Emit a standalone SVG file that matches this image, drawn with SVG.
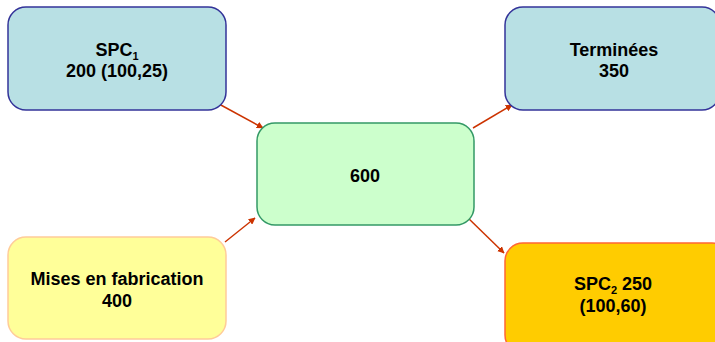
<svg xmlns="http://www.w3.org/2000/svg" width="715" height="342" viewBox="0 0 715 342">
<defs>
<style>
.t{font-family:"Liberation Sans",Arial,sans-serif;font-weight:bold;font-size:18px;fill:#000;text-anchor:middle}
.sub{font-size:11px}
.c{stroke:#cc3300;stroke-width:1.5;fill:none;marker-end:url(#ah)}
</style>
<marker id="ah" viewBox="0 0 10 10" refX="9" refY="5" markerWidth="7" markerHeight="7" orient="auto" markerUnits="userSpaceOnUse">
<path d="M0,0 L10,5 L0,10 z" fill="#cc3300"/>
</marker>
</defs>
<g id="connectors">
<line class="c" x1="219" y1="104" x2="263" y2="128"/>
<line class="c" x1="473" y1="128" x2="512" y2="105"/>
<line class="c" x1="225" y1="242" x2="255" y2="218"/>
<line class="c" x1="466" y1="216" x2="504" y2="253"/>
</g>
<g id="spc1">
<rect x="8" y="7" width="218" height="103" rx="18" fill="#b8e0e4" stroke="#333399" stroke-width="1.5"/>
<text class="t" x="117" y="56">SPC<tspan class="sub" dy="4">1</tspan></text>
<text class="t" x="117" y="77">200 (100,25)</text>
</g>
<g id="terminees">
<rect x="505" y="7" width="215" height="103" rx="18" fill="#b8e0e4" stroke="#333399" stroke-width="1.5"/>
<text class="t" x="614" y="56">Terminées</text>
<text class="t" x="614" y="77">350</text>
</g>
<g id="center">
<rect x="257" y="123" width="217" height="102" rx="18" fill="#ccffcc" stroke="#339966" stroke-width="1.5"/>
<text class="t" x="365" y="182">600</text>
</g>
<g id="mises">
<rect x="8" y="237" width="218" height="102" rx="18" fill="#ffff99" stroke="#ffcc99" stroke-width="1.5"/>
<text class="t" x="117" y="285">Mises en fabrication</text>
<text class="t" x="117" y="307">400</text>
</g>
<g id="spc2">
<rect x="505" y="243" width="225" height="110" rx="18" fill="#ffcc00" stroke="#ff6633" stroke-width="1.5"/>
<text class="t" x="613" y="290">SPC<tspan class="sub" dy="4">2</tspan><tspan dy="-4"> 250</tspan></text>
<text class="t" x="613" y="312">(100,60)</text>
</g>
</svg>
